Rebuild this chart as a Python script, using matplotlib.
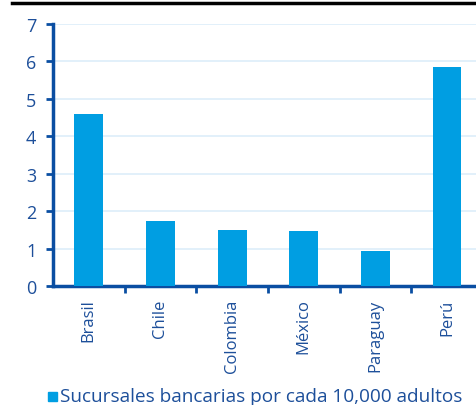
import matplotlib.pyplot as plt
import numpy as np

# Sucursales bancarias por cada 10,000 adultos
paises = ["Brasil", "Chile", "Colombia", "México", "Paraguay", "Perú"]
sucursales = [4.6, 1.74, 1.5, 1.48, 0.94, 5.86]
yticks = [0, 1, 2, 3, 4, 5, 6, 7]

azul_barra = "#009ee2"
azul_eje = "#0a4ea2"
azul_texto = "#1d4f9a"
azul_grid = "#ddeef9"

plt.rcParams["font.family"] = ["Open Sans", "DejaVu Sans"]

fig = plt.figure(figsize=(4.77, 4.06), dpi=100)
ax = fig.add_axes([53 / 477, 1 - 287 / 406, 430 / 477, 262 / 406])

x = np.arange(len(paises))
ax.bar(x, sucursales, width=0.4, color=azul_barra, zorder=3)

ax.set_xlim(-0.5, len(paises) - 0.5)
ax.set_ylim(0, 7)
ax.set_yticks(yticks)
ax.yaxis.grid(True, color=azul_grid, linewidth=1.2, zorder=0)

# etiquetas al centro, marcas entre categorias
ax.set_xticks(x)
ax.set_xticklabels(paises, rotation=90, fontsize=12, color=azul_texto)
ax.set_xticks(np.arange(len(paises)) + 0.5, minor=True)
ax.tick_params(axis="x", which="major", length=0, pad=9)
ax.tick_params(axis="x", which="minor", length=5, width=2, color=azul_eje)
ax.tick_params(axis="y", length=5, width=2, color=azul_eje, labelsize=13,
               labelcolor=azul_texto, pad=7)

for lado in ["top", "right"]:
    ax.spines[lado].set_visible(False)
for lado in ["left", "bottom"]:
    ax.spines[lado].set_color(azul_eje)
    ax.spines[lado].set_linewidth(2.5)

# linea negra superior
fig.add_artist(plt.Line2D([12 / 477, 1], [1 - 4 / 406, 1 - 4 / 406],
                          color="black", linewidth=2.5))

# leyenda
fig.patches.append(plt.Rectangle((48 / 477, 1 - 402 / 406), 9 / 477, 9 / 406,
                                 color=azul_barra, transform=fig.transFigure,
                                 figure=fig))
fig.text(60 / 477, 1 - 397 / 406, "Sucursales bancarias por cada 10,000 adultos",
         fontsize=13.7, color=azul_texto, va="center", ha="left")

fig.savefig("out.png", dpi=100)
